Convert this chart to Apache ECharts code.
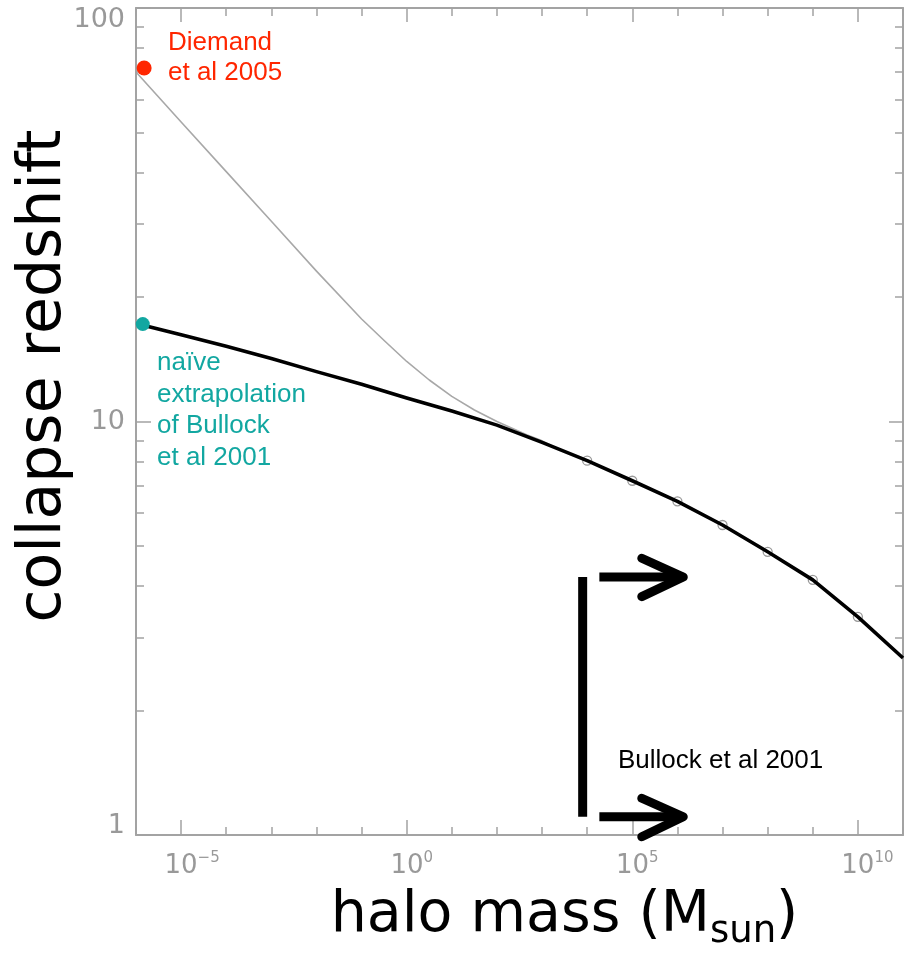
<!DOCTYPE html>
<html><head><meta charset="utf-8">
<script src="https://cdn.jsdelivr.net/npm/echarts@6/dist/echarts.min.js"></script>
<style>html,body{margin:0;padding:0;background:#fff}#c{width:907px;height:968px}</style>
</head><body><div id="c"></div>
<script>
// ---- data (x values are log10 of halo mass in Msun) ----
const blackLogMass   = [-5.84, -5, -4, -3, -2, -1, 0, 1, 2, 3, 4, 5, 6, 7, 8, 9, 10, 11];
const blackRedshift  = [17.1, 16.2, 15.2, 14.2, 13.2, 12.3, 11.4, 10.6, 9.8, 8.9, 8.04, 7.19, 6.41, 5.62, 4.84, 4.14, 3.37, 2.68];
const grayLogMass    = [-5.98, -5, -4, -3, -2, -1, -0.5, 0, 0.5, 1, 1.5, 2, 2.67, 2.96, 3.2];
const grayRedshift   = [69.6, 53.0, 40.2, 30.5, 23.1, 17.7, 15.7, 13.97, 12.6, 11.5, 10.66, 10.0, 9.28, 9.02, 8.75];
const circleLogMass  = [4, 5, 6, 7, 8, 9, 10];
const circleRedshift = [8.04, 7.19, 6.41, 5.62, 4.84, 4.14, 3.37];
const diemandPoint   = [-5.82, 71.6];
const bullockPoint   = [-5.85, 17.2];
const xMajorTicks    = [-5, 0, 5, 10];
const xMinorTicks    = [-6, -5, -4, -3, -2, -1, 0, 1, 2, 3, 4, 5, 6, 7, 8, 9, 10, 11];
const yMajorTicks    = [1, 10, 100];
const yMinorTicks    = [2, 3, 4, 5, 6, 7, 8, 9, 20, 30, 40, 50, 60, 70, 80, 90];
// annotation bracket / arrows
const bracketLogMass   = [3.90, 3.90];
const bracketRedshift  = [4.206, 1.107];
const shaftLogMass     = [4.27, 6.13];
const upperShaftZ      = [4.206, 4.206];
const lowerShaftZ      = [1.107, 1.107];
const headLogMass      = [5.21, 6.13, 5.21];
const upperHeadZ       = [4.67, 4.206, 3.771];
const lowerHeadZ       = [1.227, 1.107, 0.9906];

const L = Math.log10;
const pts = (xs, zs) => xs.map((x, i) => [x, L(zs[i])]);

const AXC = '#a3a3a3';
const labelFont = '"DejaVu Sans", "Liberation Sans", sans-serif';
const titleFont = '"Comic Sans MS", "DejaVu Sans", sans-serif';
const annFont = '"Liberation Sans", Arial, Helvetica, sans-serif';

function xAx(opts) {
  const o = Object.assign({
    type: 'value', min: -6, max: 11, gridIndex: 0,
    splitLine: { show: false },
    axisLabel: { show: false },
    axisTick: { show: false }
  }, opts);
  o.axisLine = Object.assign({ show: false, onZero: false }, opts.axisLine || {});
  return o;
}
function yAx(opts) {
  const o = Object.assign({
    type: 'value', min: 0, max: 2, gridIndex: 0,
    splitLine: { show: false },
    axisLabel: { show: false },
    axisTick: { show: false }
  }, opts);
  o.axisLine = Object.assign({ show: false, onZero: false }, opts.axisLine || {});
  return o;
}
const supW = { '-5': 'hA', '0': 'hB', '5': 'hB', '10': 'hC' };

const chart = echarts.init(document.getElementById('c'), null, { renderer: 'canvas' });
chart.setOption({
  animation: false,
  backgroundColor: '#fff',
  grid: { left: 136, right: 4, top: 8, bottom: 133, containLabel: false, outerBoundsMode: 'none' },
  xAxis: [
    xAx({
      position: 'bottom',
      axisLine: { show: true, lineStyle: { color: AXC, width: 2 } },
      axisTick: { show: true, inside: true, length: 15, customValues: xMajorTicks, lineStyle: { color: AXC, width: 1.5 } },
      axisLabel: {
        show: true, margin: 16, customValues: xMajorTicks,
        formatter: v => `{${supW[String(v)]}| }{b|10}{s|${v < 0 ? '\u2212' + (-v) : v}}`,
        rich: {
          b: { fontSize: 26, fontFamily: labelFont, color: '#999', lineHeight: 28, verticalAlign: 'bottom' },
          s: { fontSize: 15, fontFamily: labelFont, color: '#999', lineHeight: 15, verticalAlign: 'top' },
          hA: { width: 22, fontSize: 15 }, hB: { width: 10, fontSize: 15 }, hC: { width: 19, fontSize: 15 }
        }
      },
      name: '{m|halo mass (M}{sub|sun}{m|)}',
      nameLocation: 'middle', nameGap: 56, nameMoveOverlap: false,
      nameTextStyle: {
        padding: [0, 0, 0, 90],
        rich: {
          m: { fontSize: 57, fontFamily: titleFont, color: '#000', lineHeight: 60, padding: [0, 0, 6, 0], verticalAlign: 'bottom' },
          sub: { fontSize: 37, fontFamily: titleFont, color: '#000', lineHeight: 36, verticalAlign: 'bottom' }
        }
      }
    }),
    xAx({
      position: 'bottom',
      axisTick: { show: true, inside: true, length: 8, customValues: xMinorTicks, lineStyle: { color: AXC, width: 1.5 } }
    }),
    xAx({
      position: 'top',
      axisLine: { show: true, lineStyle: { color: AXC, width: 2 } },
      axisTick: { show: true, inside: true, length: 14, customValues: xMajorTicks, lineStyle: { color: AXC, width: 1.5 } }
    }),
    xAx({
      position: 'top',
      axisTick: { show: true, inside: true, length: 8, customValues: xMinorTicks, lineStyle: { color: AXC, width: 1.5 } }
    })
  ],
  yAxis: [
    yAx({
      position: 'left',
      axisLine: { show: true, lineStyle: { color: AXC, width: 2 } },
      axisTick: { show: true, inside: true, length: 15, customValues: yMajorTicks.map(L), lineStyle: { color: AXC, width: 1.5 } },
      axisLabel: {
        show: true, margin: 11, customValues: yMajorTicks.map(L),
        formatter: v => v > 1.5 ? '{t|100}' : (v < 0.5 ? '{u|1}' : '{n|10}'),
        rich: {
          t: { fontSize: 27, fontFamily: labelFont, color: '#999', padding: [24, 0, 0, 0] },
          n: { fontSize: 27, fontFamily: labelFont, color: '#999' },
          u: { fontSize: 27, fontFamily: labelFont, color: '#999', padding: [0, 0, 18, 0] }
        }
      },
      name: 'collapse redshift',
      nameLocation: 'middle', nameRotate: 90, nameGap: 62, nameMoveOverlap: false,
      nameTextStyle: { fontSize: 60, fontFamily: titleFont, color: '#000', padding: [0, 0, 0, 91] }
    }),
    yAx({
      position: 'left',
      axisTick: { show: true, inside: true, length: 8, customValues: yMinorTicks.map(L), lineStyle: { color: AXC, width: 1.5 } }
    }),
    yAx({
      position: 'right',
      axisLine: { show: true, lineStyle: { color: AXC, width: 2 } },
      axisTick: { show: true, inside: true, length: 14, customValues: yMajorTicks.map(L), lineStyle: { color: AXC, width: 1.5 } }
    }),
    yAx({
      position: 'right',
      axisTick: { show: true, inside: true, length: 8, customValues: yMinorTicks.map(L), lineStyle: { color: AXC, width: 1.5 } }
    })
  ],
  series: [
    {
      name: 'Diemand extrapolation', type: 'line', data: pts(grayLogMass, grayRedshift),
      smooth: false, symbol: 'none', z: 2,
      lineStyle: { color: '#a8a8a8', width: 1.6, join: 'round' }
    },
    {
      name: 'Bullock points', type: 'scatter', data: pts(circleLogMass, circleRedshift),
      symbol: 'circle', symbolSize: 9, z: 3,
      itemStyle: { color: 'rgba(0,0,0,0)', borderColor: '#9a9a9a', borderWidth: 1.3, opacity: 1 }
    },
    {
      name: 'Bullock et al 2001', type: 'line', data: pts(blackLogMass, blackRedshift),
      smooth: false, symbol: 'none', z: 4,
      lineStyle: { color: '#000', width: 3.6, join: 'round' }
    },
    {
      name: 'Diemand et al 2005', type: 'scatter', data: [[diemandPoint[0], L(diemandPoint[1])]],
      symbolSize: 15, z: 6, itemStyle: { color: '#ff2600', opacity: 1 }
    },
    {
      name: 'naive extrapolation', type: 'scatter', data: [[bullockPoint[0], L(bullockPoint[1])]],
      symbolSize: 14, z: 6, itemStyle: { color: '#12a7a1', opacity: 1 }
    },
    { type: 'line', data: pts(bracketLogMass, bracketRedshift), symbol: 'none', clip: false, z: 5,
      lineStyle: { color: '#000', width: 9, cap: 'butt' } },
    { type: 'line', data: pts(shaftLogMass, upperShaftZ), symbol: 'none', clip: false, z: 5,
      lineStyle: { color: '#000', width: 9, cap: 'butt' } },
    { type: 'line', data: pts(headLogMass, upperHeadZ), symbol: 'none', clip: false, z: 5,
      lineStyle: { color: '#000', width: 9, cap: 'round', join: 'round' } },
    { type: 'line', data: pts(shaftLogMass, lowerShaftZ), symbol: 'none', clip: false, z: 5,
      lineStyle: { color: '#000', width: 9, cap: 'butt' } },
    { type: 'line', data: pts(headLogMass, lowerHeadZ), symbol: 'none', clip: false, z: 5,
      lineStyle: { color: '#000', width: 9, cap: 'round', join: 'round' } }
  ],
  graphic: [
    { type: 'text', x: 168, y: 28, z: 10,
      style: { text: 'Diemand\net al 2005', font: '26px ' + annFont, fill: '#ff2600', lineHeight: 30, verticalAlign: 'top' } },
    { type: 'text', x: 157, y: 347, z: 10,
      style: { text: 'naïve\nextrapolation\nof Bullock\net al 2001', font: '26px ' + annFont, fill: '#12a7a1', lineHeight: 31.7, verticalAlign: 'top' } },
    { type: 'text', x: 618, y: 761, z: 10,
      style: { text: 'Bullock et al 2001', font: '26px ' + annFont, fill: '#000', verticalAlign: 'middle' } }
  ]
});
</script>
</body></html>
